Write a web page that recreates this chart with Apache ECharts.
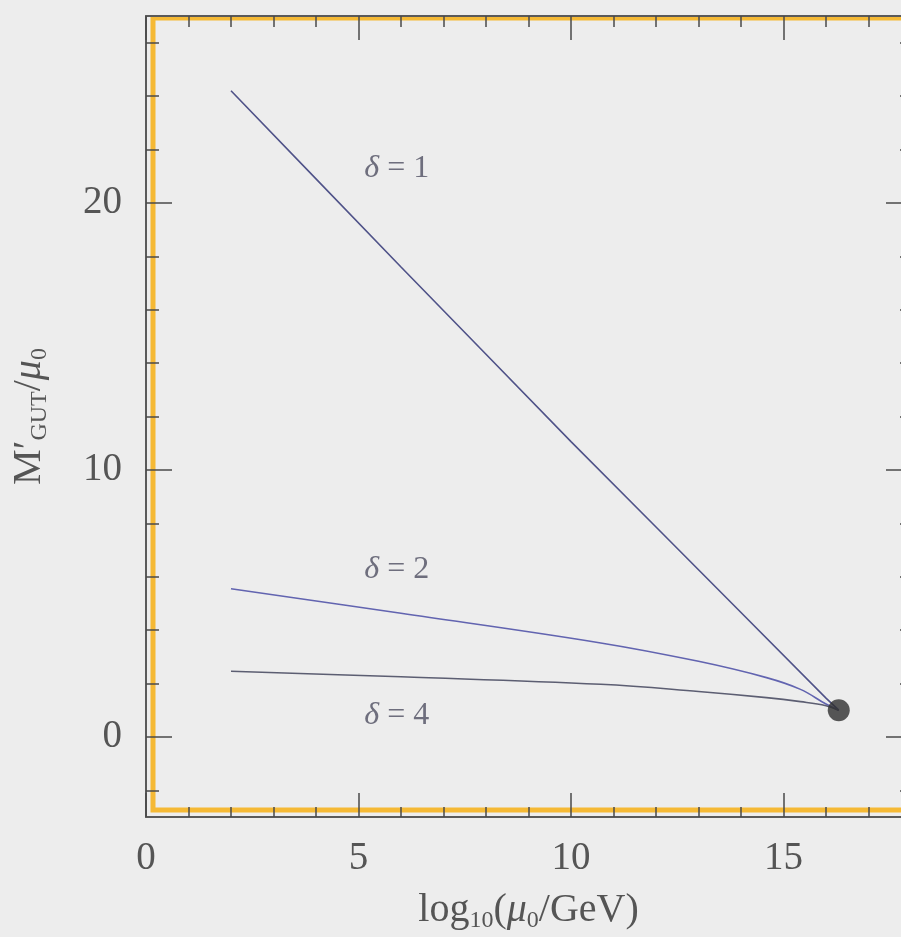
<!DOCTYPE html>
<html><head><meta charset="utf-8">
<script src="https://cdn.jsdelivr.net/npm/echarts@6/dist/echarts.min.js"></script>
<style>html,body{margin:0;padding:0;background:#ededed}#c{width:901px;height:937px}</style>
</head><body><div id="c"></div>
<script>
// Tick values
const xMajorTicks = [0, 5, 10, 15];
const xMinorTicks = [0, 1, 2, 3, 4, 5, 6, 7, 8, 9, 10, 11, 12, 13, 14, 15, 16, 17, 18];
const yMajorTicks = [0, 10, 20];
const yMinorTicks = [-2, 0, 2, 4, 6, 8, 10, 12, 14, 16, 18, 20, 22, 24, 26];

// delta = 1 curve
const xDelta1 = [2, 4, 6, 8, 10, 12, 14, 16, 16.3];
const delta1 = [24.2, 20.9, 17.6, 14.33, 11.06, 7.86, 4.66, 1.45, 1.0];
// delta = 2 and delta = 4 curves
const xCurves = [2, 6, 10.7, 13, 14.6, 15.4, 16, 16.3];
const delta2 = [5.55, 4.63, 3.52, 2.83, 2.22, 1.78, 1.23, 1.0];
const delta4 = [2.46, 2.25, 1.97, 1.70, 1.47, 1.32, 1.17, 1.0];
// unification point
const unifX = [16.3];
const unifY = [1.0];
// curve annotations
const annNames = ['1', '2', '4'];
const annX = [5.9, 5.9, 5.9];
const annY = [21.3, 6.25, 0.81];

const SERIF = '"Liberation Serif", "DejaVu Serif", serif';
const TXT = '#555';
const AX = '#4a4a4a';

function pairs(xs, ys) { return xs.map((x, i) => [x, ys[i]]); }

const nameRich = {
  a: { fontFamily: SERIF, fontSize: 40, color: TXT, lineHeight: 50 },
  i: { fontFamily: SERIF, fontSize: 40, fontStyle: 'italic', color: TXT, lineHeight: 50 },
  s: { fontFamily: SERIF, fontSize: 24, color: TXT, lineHeight: 50, padding: [22, 0, 0, 0] }
};

function xAx(pos, ticks, len, opts) {
  return Object.assign({
    type: 'value', gridIndex: 0, position: pos, min: 0, max: 18, z: 5,
    axisLine: { show: false, onZero: false },
    axisTick: { show: true, inside: true, length: len, customValues: ticks, lineStyle: { color: AX, width: 1.5 } },
    axisLabel: { show: false },
    splitLine: { show: false }
  }, opts || {});
}
function yAx(pos, ticks, len, opts) {
  return Object.assign({
    type: 'value', gridIndex: 0, position: pos, min: -3, max: 27, z: 5,
    axisLine: { show: false, onZero: false },
    axisTick: { show: true, inside: true, length: len, customValues: ticks, lineStyle: { color: AX, width: 1.5 } },
    axisLabel: { show: false },
    splitLine: { show: false }
  }, opts || {});
}

const chart = echarts.init(document.getElementById('c'), null, { renderer: 'canvas' });
chart.setOption({
  animation: false,
  backgroundColor: '#ededed',
  grid: [
    { left: 146, top: 16, width: 765, height: 801, show: false, outerBoundsMode: 'none', containLabel: false },
    { left: 153, top: 18, width: 751, height: 792, show: true, borderColor: '#f5b935', borderWidth: 5,
      backgroundColor: 'transparent', z: 0, outerBoundsMode: 'none', containLabel: false }
  ],
  xAxis: [
    xAx('bottom', xMajorTicks, 24, {
      axisLine: { show: true, onZero: false, lineStyle: { color: '#5a5a5a', width: 2 } },
      axisLabel: { show: true, customValues: xMajorTicks, margin: 22, fontFamily: SERIF, fontSize: 39, color: TXT },
      name: '{a|log}{s|10}{a|(}{i|μ}{s|0}{a|/GeV)}',
      nameLocation: 'middle', nameGap: 68,
      nameTextStyle: { rich: nameRich }
    }),
    xAx('bottom', xMinorTicks, 10),
    xAx('top', xMajorTicks, 24, { axisLine: { show: true, onZero: false, lineStyle: { color: '#5a5a5a', width: 2 } } }),
    xAx('top', xMinorTicks, 11),
    { type: 'value', gridIndex: 1, show: false, min: 0, max: 1 }
  ],
  yAxis: [
    yAx('left', yMajorTicks, 26, {
      axisLine: { show: true, onZero: false, lineStyle: { color: '#5a5a5a', width: 2 } },
      axisLabel: { show: true, customValues: yMajorTicks, margin: 24, fontFamily: SERIF, fontSize: 39, color: TXT },
      name: '{a|M′}{s|GUT}{a|/}{i|μ}{s|0}',
      nameLocation: 'middle', nameRotate: 90, nameGap: 92,
      nameTextStyle: { rich: nameRich }
    }),
    yAx('left', yMinorTicks, 13),
    yAx('right', yMajorTicks, 25, { axisLine: { show: true, onZero: false, lineStyle: { color: '#5a5a5a', width: 2 } } }),
    yAx('right', yMinorTicks, 11),
    { type: 'value', gridIndex: 1, show: false, min: 0, max: 1 }
  ],
  series: [
    { type: 'line', name: 'δ=1', xAxisIndex: 0, yAxisIndex: 0, data: pairs(xDelta1, delta1),
      showSymbol: false, smooth: false, lineStyle: { color: '#4f5288', width: 1.6 }, z: 3 },
    { type: 'line', name: 'δ=2', xAxisIndex: 0, yAxisIndex: 0, data: pairs(xCurves, delta2),
      showSymbol: false, smooth: 0.4, lineStyle: { color: '#6264b0', width: 1.6 }, z: 3 },
    { type: 'line', name: 'δ=4', xAxisIndex: 0, yAxisIndex: 0, data: pairs(xCurves, delta4),
      showSymbol: false, smooth: 0.4, lineStyle: { color: '#5c5e72', width: 1.6 }, z: 3 },
    { type: 'scatter', xAxisIndex: 0, yAxisIndex: 0, data: pairs(unifX, unifY),
      symbolSize: 22, itemStyle: { color: '#2e2e2e' }, z: 4 },
    { type: 'scatter', xAxisIndex: 0, yAxisIndex: 0, symbolSize: 0, silent: true,
      data: annNames.map((n, i) => ({ value: [annX[i], annY[i]], name: n })),
      label: { show: true, position: 'inside',
        formatter: p => '{i|δ}{a| = ' + p.name + '}',
        rich: {
          i: { fontFamily: SERIF, fontSize: 32, fontStyle: 'italic', color: '#4e4e60' },
          a: { fontFamily: SERIF, fontSize: 32, color: '#4e4e60' }
        } }, z: 4 }
  ]
});
</script></body></html>
